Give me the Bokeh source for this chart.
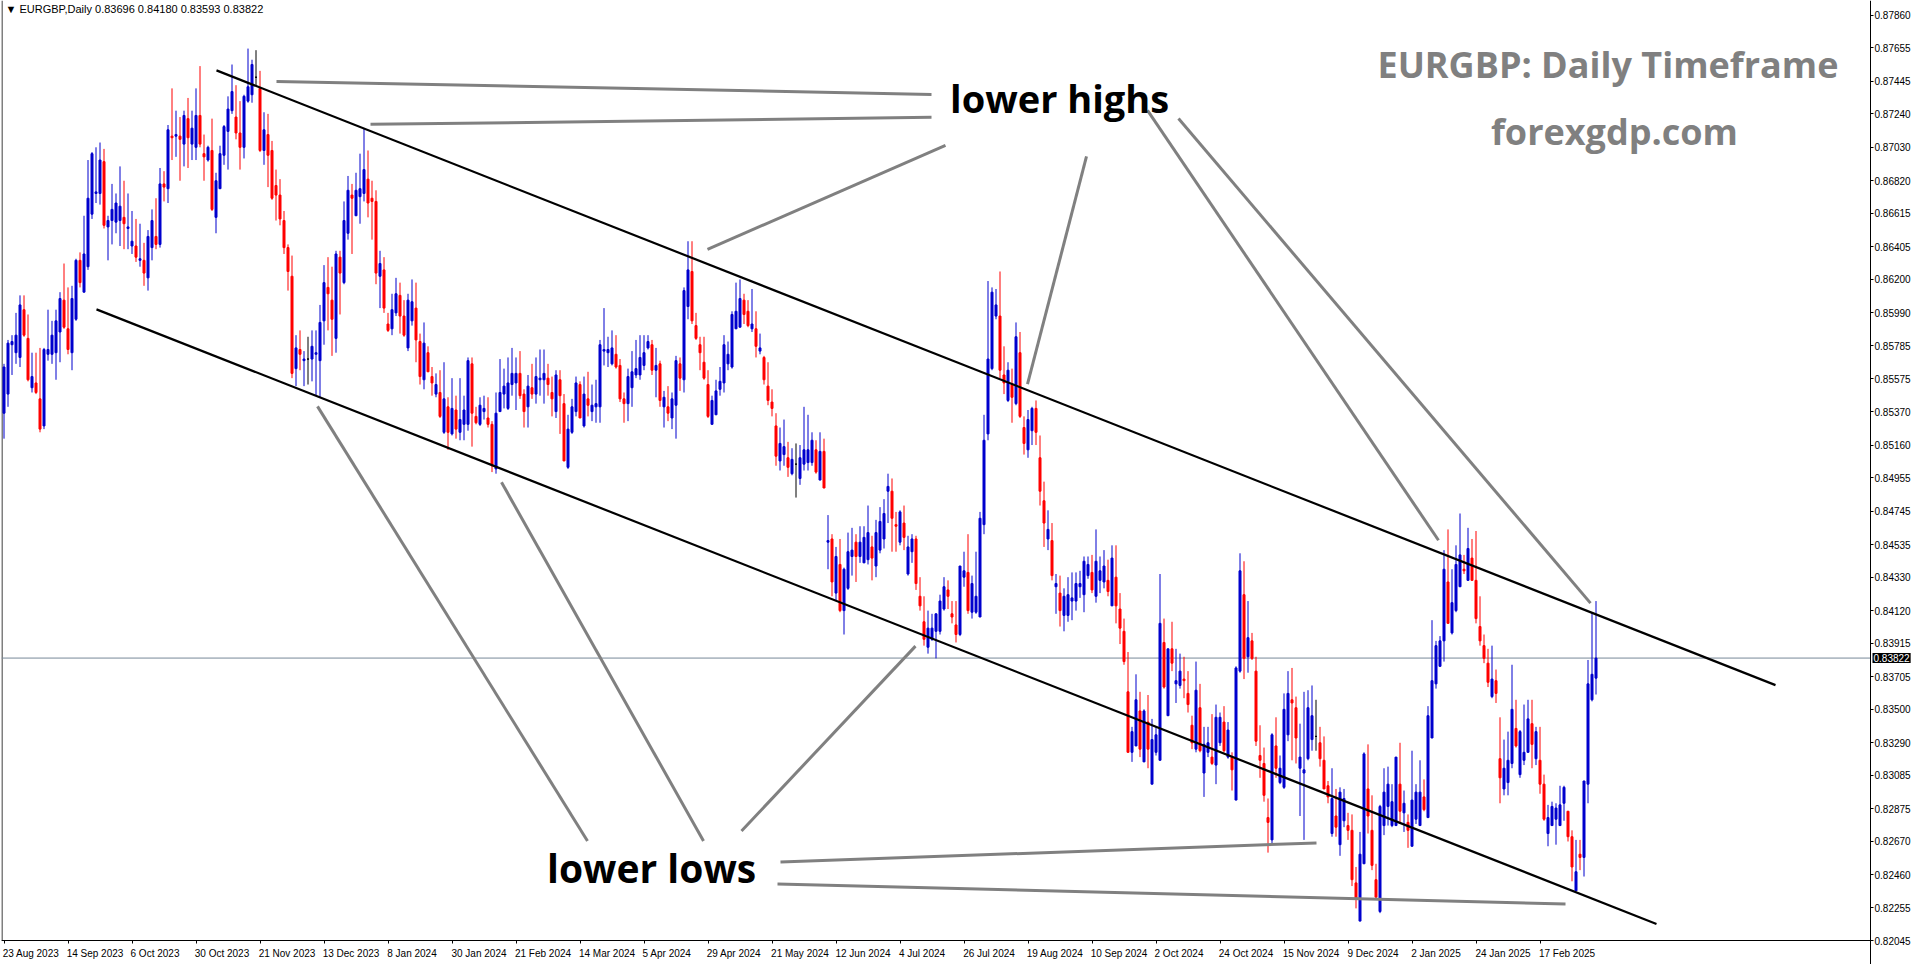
from bokeh.plotting import figure
from bokeh.models import (ColumnDataSource, Range1d, LinearAxis, FixedTicker,
                          Label, PrintfTickFormatter)
from bokeh.embed import file_html
from bokeh.resources import INLINE
from bokeh.core.properties import value

# ---------------- data ----------------
opens = [
.8536,.8548,.8579,.8574,.8571,.8601,.8583,.8552,.8555,.8545,
.8528,.8573,.8573,.8574,.8587,.8607,.8589,.8574,.8595,.8632,
.8612,.8628,.8661,.8674,.8674,.8694,.8653,.8657,.8656,.8657,
.8659,.8652,.8641,.8641,.8632,.8632,.8621,.8640,.8647,.8642,
.8680,.8677,.8710,.8710,.8710,.8705,.8721,.8705,.8703,.8723,
.8699,.8695,.8701,.8659,.8677,.8698,.8713,.8726,.8722,.8712,
.8703,.8732,.8736,.8747,.8740,.8701,.8711,.8701,.8679,.8673,
.8657,.8640,.8622,.8564,.8576,.8569,.8570,.8570,.8573,.8569,
.8594,.8615,.8607,.8583,.8634,.8618,.8649,.8673,.8660,.8672,
.8674,.8683,.8671,.8669,.8622,.8626,.8592,.8589,.8599,.8610,
.8597,.8577,.8594,.8602,.8581,.8557,.8574,.8559,.8548,.8549,
.8524,.8540,.8523,.8538,.8524,.8529,.8529,.8567,.8534,.8529,
.8537,.8533,.8529,.8501,.8537,.8548,.8539,.8554,.8555,.8561,
.8548,.8540,.8552,.8548,.8557,.8557,.8558,.8549,.8537,.8557,
.8542,.8502,.8524,.8537,.8554,.8528,.8545,.8537,.8540,.8540,
.8575,.8574,.8567,.8573,.8566,.8545,.8542,.8552,.8560,.8560,
.8566,.8577,.8579,.8563,.8567,.8540,.8540,.8533,.8541,.8567,
.8557,.8603,.8625,.8591,.8579,.8568,.8554,.8529,.8535,.8551,
.8555,.8567,.8565,.8589,.8590,.8607,.8600,.8589,.8589,.8575,
.8571,.8553,.8543,.8528,.8506,.8510,.8508,.8498,.8504,.8495,
.8504,.8505,.8505,.8513,.8494,.8512,.8455,.8457,.8423,.8441,
.8412,.8426,.8446,.8455,.8446,.8442,.8444,.8452,.8440,.8450,
.8457,.8487,.8487,.8466,.8455,.8467,.8435,.8449,.8457,.8421,
.8405,.8389,.8394,.8399,.8399,.8413,.8425,.8410,.8403,.8397,
.8433,.8436,.8411,.8411,.8408,.8466,.8523,.8564,.8597,.8597,
.8560,.8544,.8554,.8542,.8574,.8527,.8513,.8525,.8539,.8508,
.8481,.8457,.8456,.8427,.8423,.8409,.8409,.8418,.8418,.8427,
.8422,.8434,.8436,.8421,.8431,.8430,.8431,.8415,.8433,.8413,
.8399,.8361,.8323,.8327,.8349,.8317,.8342,.8303,.8323,.8318,
.8392,.8346,.8388,.8366,.8365,.8369,.8360,.8340,.8325,.8351,
.8310,.8323,.8320,.8315,.8329,.8342,.8320,.8320,.8293,.8374,
.8422,.8383,.8393,.8374,.8321,.8316,.8282,.8268,.8327,.8304,
.8301,.8334,.8356,.8351,.8313,.8310,.8319,.8331,.8333,.8329,
.8318,.8302,.8272,.8283,.8265,.8280,.8277,.8274,.8241,.8217,
.8253,.8300,.8274,.8243,.8223,.8277,.8289,.8277,.8277,.8303,
.8285,.8279,.8264,.8281,.8277,.8295,.8282,.8332,.8366,.8377,
.8393,.8430,.8398,.8412,.8427,.8438,.8431,.8445,.8431,.8402,
.8390,.8379,.8358,.8368,.8319,.8300,.8304,.8316,.8338,.8309,
.8318,.8323,.8341,.8319,.8318,.8303,.8272,.8277,.8281,.8277,
.8291,.8286,.8270,.8236,.8259,.8257,.8303,.8356,.83696]

highs = [
.8567,.8582,.8585,.8599,.8610,.8610,.8598,.8574,.8574,.8577,
.8577,.8601,.8594,.8601,.8612,.8630,.8615,.8616,.8633,.8637,
.8660,.8695,.8700,.8703,.8706,.8702,.8660,.8680,.8674,.8691,
.8682,.8674,.8663,.8658,.8655,.8643,.8651,.8664,.8671,.8690,
.8688,.8717,.8740,.8726,.8722,.8726,.8734,.8726,.8740,.8754,
.8711,.8704,.8721,.8687,.8704,.8717,.8735,.8755,.8742,.8732,
.8736,.8765,.8758,.8764,.8751,.8725,.8724,.8707,.8689,.8683,
.8663,.8642,.8635,.8585,.8588,.8575,.8584,.8588,.8588,.8604,
.8629,.8634,.8628,.8638,.8638,.8669,.8685,.8680,.8687,.8699,
.8715,.8701,.8682,.8676,.8638,.8634,.8599,.8611,.8621,.8618,
.8607,.8611,.8620,.8618,.8586,.8593,.8578,.8565,.8561,.8563,
.8568,.8546,.8558,.8547,.8558,.8547,.8571,.8571,.8540,.8546,
.8547,.8546,.8531,.8549,.8570,.8564,.8571,.8577,.8571,.8575,
.8551,.8560,.8567,.8571,.8576,.8576,.8567,.8559,.8563,.8563,
.8548,.8535,.8545,.8559,.8556,.8559,.8562,.8554,.8557,.8582,
.8602,.8584,.8588,.8585,.8570,.8549,.8564,.8575,.8582,.8585,
.8585,.8585,.8582,.8577,.8569,.8550,.8553,.8549,.8572,.8571,
.8615,.8644,.8644,.8599,.8584,.8584,.8563,.8547,.8557,.8565,
.8585,.8581,.8600,.8618,.8620,.8611,.8607,.8614,.8600,.8586,
.8572,.8568,.8551,.8536,.8527,.8532,.8518,.8514,.8517,.8516,
.8540,.8535,.8524,.8519,.8524,.8520,.8472,.8460,.8452,.8457,
.8439,.8461,.8464,.8460,.8465,.8465,.8478,.8459,.8469,.8477,
.8482,.8498,.8495,.8474,.8475,.8478,.8459,.8460,.8459,.8433,
.8421,.8412,.8410,.8410,.8422,.8433,.8431,.8418,.8418,.8440,
.8449,.8460,.8434,.8449,.8474,.8535,.8619,.8615,.8614,.8625,
.8578,.8568,.8564,.8593,.8587,.8534,.8538,.8540,.8544,.8522,
.8493,.8475,.8467,.8435,.8434,.8426,.8433,.8436,.8436,.8437,
.8446,.8446,.8447,.8463,.8446,.8450,.8444,.8453,.8453,.8423,
.8407,.8386,.8339,.8372,.8361,.8350,.8359,.8344,.8339,.8435,
.8407,.8388,.8405,.8388,.8385,.8383,.8374,.8346,.8380,.8366,
.8339,.8339,.8347,.8353,.8348,.8352,.8342,.8323,.8377,.8448,
.8443,.8418,.8398,.8383,.8340,.8326,.8294,.8335,.8345,.8321,
.8360,.8374,.8376,.8358,.8341,.8361,.8362,.8365,.8356,.8339,
.8333,.8305,.8313,.8300,.8301,.8300,.8285,.8284,.8251,.8273,
.8323,.8328,.8296,.8253,.8290,.8313,.8314,.8303,.8320,.8329,
.8299,.8284,.8324,.8303,.8318,.8306,.8352,.8406,.8393,.8396,
.8450,.8463,.8438,.8453,.8473,.8447,.8464,.8457,.8462,.8421,
.8397,.8388,.8390,.8375,.8345,.8331,.8336,.8378,.8356,.8337,
.8353,.8356,.8356,.8339,.8339,.8309,.8290,.8292,.8291,.8302,
.8302,.8286,.8274,.8268,.8268,.8305,.8381,.8411,.84180]

lows = [
.8520,.8540,.8560,.8567,.8565,.8584,.8556,.8549,.8548,.8524,
.8526,.8569,.8567,.8557,.8568,.8589,.8573,.8563,.8594,.8615,
.8612,.8626,.8658,.8668,.8667,.8652,.8632,.8642,.8649,.8641,
.8639,.8639,.8636,.8631,.8628,.8616,.8613,.8632,.8639,.8640,
.8669,.8668,.8695,.8697,.8682,.8691,.8690,.8695,.8695,.8703,
.8682,.8694,.8663,.8649,.8677,.8692,.8689,.8724,.8708,.8689,
.8696,.8731,.8731,.8742,.8700,.8692,.8678,.8670,.8657,.8654,
.8636,.8613,.8558,.8553,.8563,.8553,.8554,.8556,.8547,.8546,
.8579,.8588,.8572,.8574,.8598,.8617,.8645,.8636,.8660,.8655,
.8669,.8659,.8645,.8617,.8602,.8599,.8587,.8585,.8597,.8586,
.8584,.8575,.8591,.8568,.8554,.8551,.8562,.8547,.8546,.8533,
.8523,.8513,.8522,.8520,.8519,.8519,.8525,.8515,.8529,.8528,
.8532,.8527,.8499,.8498,.8537,.8539,.8538,.8547,.8538,.8545,
.8527,.8527,.8545,.8542,.8547,.8542,.8547,.8534,.8533,.8523,
.8506,.8501,.8523,.8534,.8533,.8527,.8534,.8531,.8530,.8530,
.8566,.8565,.8566,.8564,.8543,.8530,.8531,.8540,.8558,.8557,
.8563,.8576,.8560,.8546,.8540,.8527,.8531,.8526,.8520,.8550,
.8549,.8595,.8592,.8582,.8563,.8557,.8533,.8529,.8535,.8547,
.8549,.8563,.8564,.8589,.8590,.8592,.8590,.8587,.8571,.8573,
.8554,.8541,.8534,.8503,.8500,.8503,.8496,.8497,.8483,.8491,
.8500,.8500,.8503,.8498,.8494,.8489,.8438,.8421,.8418,.8411,
.8397,.8425,.8434,.8430,.8442,.8442,.8441,.8431,.8433,.8448,
.8451,.8467,.8449,.8449,.8453,.8450,.8434,.8442,.8425,.8412,
.8390,.8385,.8393,.8382,.8397,.8412,.8413,.8404,.8392,.8396,
.8427,.8410,.8407,.8410,.8408,.8460,.8519,.8563,.8595,.8558,
.8548,.8543,.8530,.8541,.8533,.8510,.8508,.8516,.8516,.8478,
.8452,.8450,.8431,.8410,.8402,.8399,.8405,.8406,.8412,.8420,
.8411,.8432,.8423,.8417,.8423,.8426,.8421,.8415,.8404,.8391,
.8378,.8323,.8317,.8327,.8320,.8317,.8313,.8303,.8321,.8318,
.8363,.8346,.8374,.8354,.8363,.8357,.8348,.8325,.8323,.8323,
.8295,.8320,.8315,.8303,.8327,.8323,.8319,.8299,.8293,.8373,
.8369,.8373,.8381,.8327,.8307,.8292,.8260,.8266,.8307,.8303,
.8300,.8330,.8318,.8316,.8283,.8268,.8318,.8324,.8324,.8314,
.8300,.8291,.8270,.8270,.8258,.8276,.8268,.8239,.8225,.8217,
.8253,.8272,.8249,.8232,.8222,.8271,.8277,.8276,.8277,.8278,
.8273,.8263,.8264,.8278,.8277,.8286,.8282,.8332,.8363,.8377,
.8380,.8404,.8397,.8411,.8427,.8435,.8431,.8431,.8404,.8390,
.8379,.8364,.8357,.8354,.8291,.8296,.8296,.8313,.8326,.8307,
.8315,.8323,.8313,.8315,.8297,.8280,.8264,.8277,.8265,.8277,
.8280,.8267,.8242,.8236,.8249,.8245,.8291,.8355,.83593]

closes = [
.8565,.8580,.8581,.8585,.8604,.8585,.8557,.8559,.8549,.8526,
.8576,.8576,.8585,.8594,.8608,.8590,.8576,.8608,.8632,.8618,
.8636,.8671,.8699,.8675,.8695,.8654,.8657,.8664,.8668,.8666,
.8655,.8653,.8644,.8634,.8633,.8624,.8647,.8657,.8642,.8680,
.8678,.8714,.8709,.8711,.8708,.8723,.8709,.8715,.8723,.8705,
.8697,.8703,.8664,.8682,.8699,.8716,.8727,.8738,.8712,.8703,
.8735,.8741,.8755,.8747,.8701,.8714,.8698,.8671,.8673,.8658,
.8640,.8625,.8561,.8577,.8573,.8570,.8570,.8578,.8574,.8593,
.8618,.8611,.8595,.8636,.8624,.8657,.8676,.8671,.8676,.8677,
.8689,.8668,.8669,.8624,.8630,.8602,.8588,.8601,.8611,.8597,
.8585,.8607,.8606,.8582,.8559,.8580,.8562,.8555,.8554,.8534,
.8545,.8524,.8539,.8526,.8532,.8538,.8569,.8536,.8530,.8541,
.8539,.8529,.8503,.8536,.8549,.8553,.8555,.8561,.8561,.8547,
.8537,.8553,.8548,.8559,.8558,.8561,.8554,.8545,.8560,.8547,
.8506,.8526,.8540,.8555,.8533,.8548,.8541,.8541,.8542,.8579,
.8576,.8576,.8577,.8565,.8545,.8542,.8559,.8562,.8564,.8571,
.8574,.8581,.8563,.8566,.8544,.8546,.8536,.8545,.8569,.8558,
.8613,.8626,.8594,.8583,.8574,.8558,.8534,.8544,.8550,.8556,
.8579,.8573,.8598,.8600,.8608,.8598,.8591,.8592,.8578,.8577,
.8557,.8544,.8539,.8509,.8517,.8515,.8502,.8507,.8504,.8508,
.8513,.8513,.8519,.8499,.8512,.8489,.8456,.8430,.8446,.8412,
.8438,.8449,.8450,.8446,.8455,.8458,.8461,.8445,.8461,.8468,
.8473,.8490,.8470,.8465,.8474,.8458,.8452,.8457,.8429,.8415,
.8394,.8401,.8401,.8410,.8418,.8427,.8421,.8408,.8397,.8440,
.8437,.8412,.8429,.8421,.8470,.8519,.8570,.8612,.8604,.8563,
.8555,.8563,.8546,.8584,.8534,.8517,.8532,.8539,.8524,.8487,
.8467,.8463,.8434,.8429,.8412,.8421,.8422,.8420,.8429,.8429,
.8443,.8441,.8425,.8443,.8437,.8440,.8424,.8445,.8415,.8401,
.8380,.8323,.8336,.8356,.8325,.8349,.8325,.8331,.8334,.8404,
.8364,.8388,.8379,.8368,.8374,.8368,.8353,.8329,.8362,.8324,
.8328,.8329,.8316,.8345,.8345,.8324,.8337,.8312,.8376,.8437,
.8382,.8395,.8382,.8330,.8318,.8296,.8279,.8334,.8313,.8313,
.8350,.8360,.8354,.8332,.8320,.8312,.8351,.8346,.8333,.8319,
.8300,.8295,.8294,.8276,.8298,.8294,.8274,.8243,.8231,.8259,
.8322,.8283,.8252,.8232,.8289,.8298,.8303,.8292,.8320,.8286,
.8291,.8274,.8293,.8298,.8298,.8287,.8346,.8368,.8390,.8393,
.8438,.8404,.8417,.8441,.8447,.8437,.8451,.8431,.8407,.8393,
.8382,.8367,.8369,.8360,.8307,.8313,.8318,.8350,.8327,.8336,
.8323,.8344,.8328,.8336,.8303,.8281,.8282,.8289,.8288,.8290,
.8301,.8270,.8251,.8248,.8257,.8305,.8366,.8372,.83822]

date_labels = ["23 Aug 2023", "14 Sep 2023", "6 Oct 2023", "30 Oct 2023", "21 Nov 2023",
               "13 Dec 2023", "8 Jan 2024", "30 Jan 2024", "21 Feb 2024", "14 Mar 2024",
               "5 Apr 2024", "29 Apr 2024", "21 May 2024", "12 Jun 2024", "4 Jul 2024",
               "26 Jul 2024", "19 Aug 2024", "10 Sep 2024", "2 Oct 2024", "24 Oct 2024",
               "15 Nov 2024", "9 Dec 2024", "2 Jan 2025", "24 Jan 2025", "17 Feb 2025"]
label_step = 16  # bars between date labels

price_ticks = [0.87860, 0.87655, 0.87445, 0.87240, 0.87030, 0.86820, 0.86615, 0.86405,
               0.86200, 0.85990, 0.85785, 0.85575, 0.85370, 0.85160, 0.84955, 0.84745,
               0.84535, 0.84330, 0.84120, 0.83915, 0.83705, 0.83500, 0.83290, 0.83085,
               0.82875, 0.82670, 0.82460, 0.82255, 0.82045]

last_price = 0.83822

# channel lines (bar index, price)
channel_x = [[53.125, 442.875], [23.125, 413.125]]
channel_y = [[0.87513, 0.83652], [0.86012, 0.82152]]

# grey pointer lines (bar index, price)
ptr_x0 = [68.125, 91.625, 175.875, 255.875, 285.875, 293.625, 78.375, 124.375, 227.875, 194.125, 193.375]
ptr_y0 = [0.87444, 0.87174, 0.86389, 0.85542, 0.87262, 0.87211, 0.85403, 0.84926, 0.83897, 0.82541, 0.82403]
ptr_x1 = [231.875, 231.875, 235.375, 270.625, 358.625, 396.625, 145.875, 174.875, 184.375, 328.125, 390.375]
ptr_y1 = [0.87362, 0.87218, 0.87042, 0.86973, 0.84562, 0.84167, 0.82673, 0.82673, 0.82736, 0.82661, 0.82277]

# ---------------- figure ----------------
BULL = "#0000CD"
BEAR = "#FF0000"

n = len(opens)
idx = list(range(n))
colors, tops, bots = [], [], []
for o, c in zip(opens, closes):
    if c > o:
        colors.append(BULL)
    elif c < o:
        colors.append(BEAR)
    else:
        colors.append("#000000")
    tops.append(max(o, c))
    bots.append(min(o, c))

src = ColumnDataSource(dict(x=idx, o=opens, h=highs, l=lows, c=closes,
                            top=tops, bot=bots, color=colors))

X0 = -0.625          # left edge of the chart (bars)
X_AXIS = 466.625     # bar position of the price scale line
Y_TOP = 0.87952      # price at the top edge
Y_AXIS = price_ticks[-1]   # price at the time scale line
p = figure(width=1916, height=964, output_backend="svg", toolbar_location=None,
           x_range=Range1d(X0, 478.125), y_range=Range1d(0.818974, Y_TOP),
           x_axis_location=None, y_axis_location=None,
           min_border_left=1, min_border_right=0, min_border_top=0, min_border_bottom=0)
p.outline_line_color = None
p.background_fill_color = "white"
p.border_fill_color = "white"
p.grid.grid_line_color = None
p.grid.visible = False

# left border of the chart window
p.segment(x0=[-0.5], y0=[Y_AXIS], x1=[-0.5], y1=[Y_TOP], line_color="black", line_width=1)

# price scale, drawn at the right edge of the chart area
yax = LinearAxis(ticker=FixedTicker(ticks=price_ticks, minor_ticks=[]),
                 formatter=PrintfTickFormatter(format="%.5f"),
                 fixed_location=X_AXIS,
                 major_tick_out=3, major_tick_in=0, minor_tick_line_color=None,
                 axis_line_color="black", major_tick_line_color="black",
                 major_label_standoff=1, major_label_text_font="Liberation Sans",
                 major_label_text_font_size="10px", major_label_text_color="black")
p.add_layout(yax, "right")

# time scale: short marks at the labelled bars (minor ticks), labels start at the mark
tick_bars = [k * label_step for k in range(len(date_labels))]
W = {' ': 278, 'A': 667, 'u': 556, 'g': 556, 'S': 667, 'e': 556, 'p': 556, 'O': 778,
     'c': 500, 't': 278, 'N': 722, 'o': 556, 'v': 500, 'D': 722, 'J': 500, 'a': 556,
     'n': 556, 'F': 611, 'b': 556, 'M': 833, 'r': 333, 'y': 500, 'l': 222}
def text_w(s, size):
    return sum(W.get(ch, 556) for ch in s) * size / 1000.0
centers, overrides = [], {}
for t, lbl in zip(tick_bars, date_labels):
    cx = t - 0.25 + text_w(lbl, 10) / 2.0 / 4.0
    cx = round(cx * 4) / 4.0
    centers.append(cx)
    overrides[cx] = lbl
xax = LinearAxis(ticker=FixedTicker(ticks=centers, minor_ticks=tick_bars),
                 major_label_overrides=overrides, bounds=(X0, X_AXIS),
                 fixed_location=Y_AXIS,
                 major_tick_out=0, major_tick_in=0, major_tick_line_color=None,
                 minor_tick_out=3, minor_tick_in=0, minor_tick_line_color="black",
                 axis_line_color="black",
                 major_label_standoff=4, major_label_text_font="Liberation Sans",
                 major_label_text_font_size="10px", major_label_text_color="black")
p.add_layout(xax, "below")

# current price line (up to the price scale)
p.line([X0, X_AXIS], [last_price, last_price], line_color="#778899", line_width=1)

# candles
p.segment(x0="x", y0="l", x1="x", y1="h", line_color="color", line_width=1, source=src)
p.vbar(x="x", width=0.5, top="top", bottom="bot", fill_color="color", line_color="color",
       line_width=1, source=src)

# channel
for xs, ys in zip(channel_x, channel_y):
    p.line(xs, ys, line_color="black", line_width=2.2)

# pointer lines
p.segment(x0=ptr_x0, y0=ptr_y0, x1=ptr_x1, y1=ptr_y1, line_color="#808080", line_width=3)

# texts
p.text(x=[263.9], y=[0.87337], text=["lower highs"], text_font=value("Open Sans"),
       text_font_style="bold", text_font_size="38px", text_color="black",
       text_align="center", text_baseline="middle")
p.text(x=[161.9], y=[0.82509], text=["lower lows"], text_font=value("Open Sans"),
       text_font_style="bold", text_font_size="39px", text_color="black",
       text_align="center", text_baseline="middle")
p.text(x=[458.6], y=[0.87550], text=["EURGBP: Daily Timeframe"], text_font=value("Open Sans"),
       text_font_style="bold", text_font_size="36px", text_color="#808080",
       text_align="right", text_baseline="middle")
p.text(x=[402.6], y=[0.87130], text=["forexgdp.com"], text_font=value("Open Sans"),
       text_font_style="bold", text_font_size="36px", text_color="#808080",
       text_align="center", text_baseline="middle")
header = "\u25bc EURGBP,Daily  %.5f %.5f %.5f %.5f" % (opens[-1], highs[-1], lows[-1], closes[-1])
p.text(x=[0.375], y=[0.87896], text=[header], text_font=value("Liberation Sans"),
       text_font_size="11px", text_color="black", text_align="left", text_baseline="middle")

# current price tag on the price scale
p.add_layout(Label(x=X_AXIS + 0.5, y=last_price, text="%.5f" % last_price, text_color="white",
                   background_fill_color="black", text_font="Liberation Sans",
                   text_font_size="10px", text_align="left", text_baseline="middle",
                   padding=1))

html = file_html(p, INLINE, title="EURGBP Daily")
html = html.replace("<head>", "<head><style>body{margin:0 !important;}</style>", 1)
open("out.html", "w").write(html)
